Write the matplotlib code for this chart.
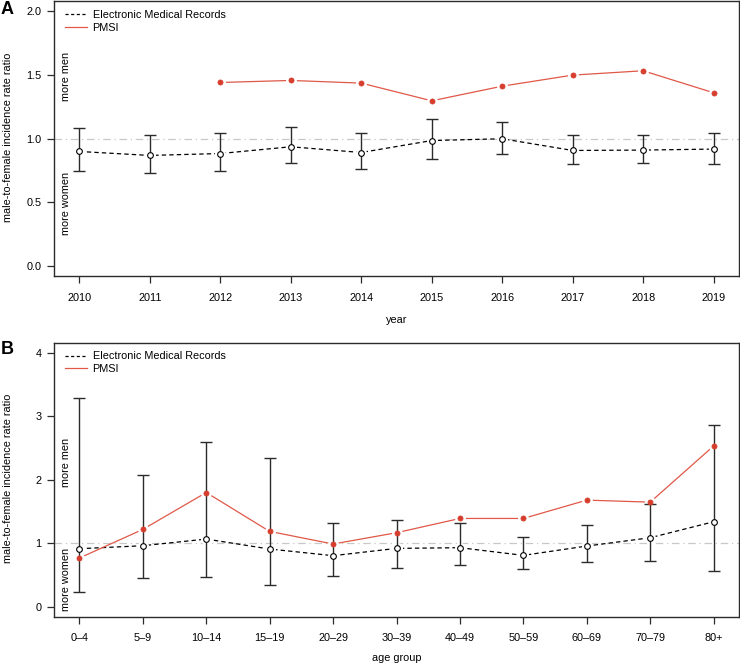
import matplotlib
matplotlib.use("Agg")
import matplotlib.pyplot as plt
import numpy as np

plt.rcParams['font.family'] = ['Liberation Sans', 'DejaVu Sans']

# ---- Panel A data ----
years = ["2010", "2011", "2012", "2013", "2014", "2015", "2016", "2017", "2018", "2019"]
emr_year = [0.898, 0.867, 0.882, 0.935, 0.890, 0.984, 0.998, 0.906, 0.909, 0.917]
emr_year_lo = [0.741, 0.728, 0.746, 0.804, 0.759, 0.838, 0.877, 0.801, 0.809, 0.801]
emr_year_hi = [1.084, 1.031, 1.042, 1.089, 1.042, 1.152, 1.131, 1.024, 1.024, 1.047]
pmsi_years = ["2012", "2013", "2014", "2015", "2016", "2017", "2018", "2019"]
pmsi_year = [1.440, 1.456, 1.435, 1.296, 1.411, 1.498, 1.532, 1.359]

# ---- Panel B data ----
age_groups = ["0\u20134", "5\u20139", "10\u201314", "15\u201319", "20\u201329", "30\u201339",
              "40\u201349", "50\u201359", "60\u201369", "70\u201379", "80+"]
emr_age = [0.912, 0.959, 1.064, 0.907, 0.802, 0.917, 0.928, 0.807, 0.954, 1.085, 1.337]
emr_age_lo = [0.225, 0.446, 0.467, 0.336, 0.477, 0.608, 0.650, 0.592, 0.708, 0.723, 0.561]
emr_age_hi = [3.282, 2.076, 2.595, 2.349, 1.311, 1.368, 1.316, 1.090, 1.279, 1.615, 2.868]
pmsi_age = [0.765, 1.216, 1.798, 1.185, 0.986, 1.164, 1.389, 1.389, 1.678, 1.646, 2.532]

W, H = 740, 665
fig = plt.figure(figsize=(W / 100, H / 100), dpi=100)

FS = 7.8
DARK = '#2b2b2b'
RED_LINE = '#e05848'
RED_PT = '#d63d2c'
REF = '#c8c8c8'


def px_axes(left, top, right, bottom):
    return fig.add_axes([left / W, 1 - bottom / H, (right - left) / W, (bottom - top) / H])


def draw_panel(ax, cats, emr, lo, hi, pcats, pmsi, ylim, yticks, yticklabels):
    x = np.arange(len(cats))
    idx = {c: i for i, c in enumerate(cats)}
    px = np.array([idx[c] for c in pcats])
    emr = np.asarray(emr)
    lo = np.asarray(lo)
    hi = np.asarray(hi)

    ax.axhline(1.0, color=REF, lw=0.9, ls=(0, (6, 3, 1, 3)), zorder=1)
    # lines with gaps around points (R type "b")
    ax.plot(x, emr, color='black', lw=0.9, ls=(0, (3.5, 2.5)), zorder=2)
    ax.plot(px, pmsi, color=RED_LINE, lw=0.9, zorder=2)
    ax.plot(x, emr, ls='none', marker='o', ms=7.0, mfc='white', mec='white', zorder=2.5)
    ax.plot(px, pmsi, ls='none', marker='o', ms=6.8, mfc='white', mec='white', zorder=2.5)
    ax.errorbar(x, emr, yerr=[emr - lo, hi - emr], fmt='none', ecolor=DARK,
                elinewidth=1.0, capsize=4.3, capthick=1.0, zorder=3)
    ax.plot(x, emr, ls='none', marker='o', ms=4.1, mfc='white', mec='black', mew=0.8, zorder=5)
    ax.plot(px, pmsi, ls='none', marker='o', ms=3.7, mfc=RED_PT, mec=RED_PT, mew=0.5, zorder=6)

    n = len(cats)
    ax.set_xlim(-0.04 * (n - 1), (n - 1) * 1.04)
    ax.set_ylim(*ylim)
    ax.set_xticks(x)
    ax.set_xticklabels(cats)
    ax.set_yticks(yticks)
    ax.set_yticklabels(yticklabels)
    ax.tick_params(axis='both', direction='out', length=5, width=0.9, color=DARK,
                   labelsize=FS, labelcolor='black')
    ax.tick_params(axis='x', pad=7)
    ax.tick_params(axis='y', pad=4)
    for s in ax.spines.values():
        s.set_color(DARK)
        s.set_linewidth(1.0)

    h1, = ax.plot([], [], color='black', lw=0.9, ls=(0, (2.5, 2.0)))
    h2, = ax.plot([], [], color=RED_LINE, lw=0.9)
    ax.legend([h1, h2], ['Electronic Medical Records', 'PMSI'], loc='upper left',
              bbox_to_anchor=(0.016, 0.968), frameon=False, fontsize=FS,
              handlelength=2.0, handletextpad=0.55, labelspacing=0.25,
              borderpad=0, borderaxespad=0)


axA = px_axes(54, 1, 739, 276)
draw_panel(axA, years, emr_year, emr_year_lo, emr_year_hi, pmsi_years, pmsi_year,
           (-0.08, 2.08), [0, 0.5, 1.0, 1.5, 2.0], ["0.0", "0.5", "1.0", "1.5", "2.0"])

axB = px_axes(54, 342.7, 739, 616.7)
draw_panel(axB, age_groups, emr_age, emr_age_lo, emr_age_hi, age_groups, pmsi_age,
           (-0.16, 4.16), [0, 1, 2, 3, 4], ["0", "1", "2", "3", "4"])

# axis titles
fig.text(397 / W, 1 - 320 / H, 'year', ha='center', va='center', fontsize=FS)
fig.text(397 / W, 1 - 658 / H, 'age group', ha='center', va='center', fontsize=FS)
fig.text(8.5 / W, 1 - 137 / H, 'male-to-female incidence rate ratio', rotation=90,
         ha='center', va='center', fontsize=FS)
fig.text(8.5 / W, 1 - 478 / H, 'male-to-female incidence rate ratio', rotation=90,
         ha='center', va='center', fontsize=FS)

# annotations
fig.text(66 / W, 1 - 76 / H, 'more men', rotation=90, ha='center', va='center', fontsize=FS)
fig.text(66 / W, 1 - 203.5 / H, 'more women', rotation=90, ha='center', va='center', fontsize=FS)
fig.text(66 / W, 1 - 462.7 / H, 'more men', rotation=90, ha='center', va='center', fontsize=FS)
fig.text(66 / W, 1 - 579 / H, 'more women', rotation=90, ha='center', va='center', fontsize=FS)

# panel letters
fig.text(1 / W, 1 - 9 / H, 'A', fontsize=13, fontweight='bold', ha='left', va='center')
fig.text(1 / W, 1 - 350 / H, 'B', fontsize=13, fontweight='bold', ha='left', va='center')

fig.savefig('out.png', dpi=100)
